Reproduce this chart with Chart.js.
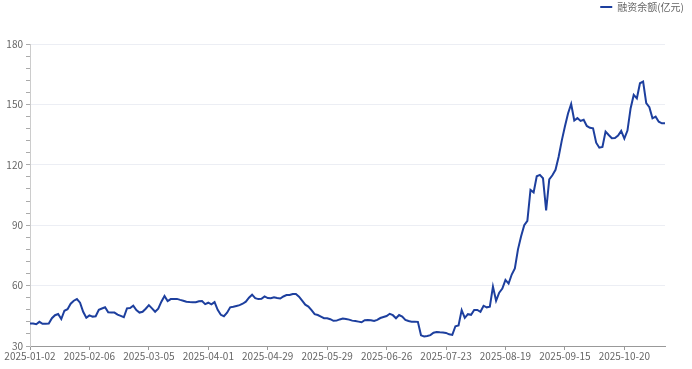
<!DOCTYPE html>
<html>
<head>
<meta charset="utf-8">
<script src="https://cdn.jsdelivr.net/npm/chart.js@4/dist/chart.umd.min.js"></script>
<style>
  html, body { margin: 0; padding: 0; background: #fff; }
  #wrap { width: 692px; height: 369px; }
</style>
</head>
<body>
<div id="wrap"><canvas id="myCanvas" width="692" height="369"></canvas></div>
<script>
// trading calendar (weekdays minus exchange holidays)
const startDate = '2025-01-02';
const endDate = '2025-11-06';
const holidays = ['2025-01-01', '2025-01-28', '2025-01-29', '2025-01-30', '2025-01-31', '2025-02-03', '2025-02-04',
    '2025-04-04', '2025-05-01', '2025-05-02', '2025-05-05', '2025-06-02',
    '2025-10-01', '2025-10-02', '2025-10-03', '2025-10-06', '2025-10-07', '2025-10-08'];

// 融资余额 (亿元), one value per trading day
const balance = [
    41.2, 41.2, 40.8, 42.0, 41.0, 41.0, 41.2, 43.8, 45.3, 45.9,
    43.4, 47.5, 48.3, 51.0, 52.5, 53.3, 51.5, 47.0, 44.0, 45.2,
    44.6, 44.8, 48.0, 48.6, 49.2, 46.7, 46.6, 46.6, 45.6, 45.0,
    44.3, 48.7, 48.9, 50.0, 47.8, 46.6, 47.0, 48.5, 50.3, 48.7,
    47.0, 48.5, 52.0, 54.8, 52.3, 53.3, 53.3, 53.4, 52.9, 52.5,
    52.0, 51.8, 51.7, 51.7, 52.2, 52.3, 50.8, 51.5, 50.7, 51.8,
    48.0, 45.5, 44.8, 46.5, 49.2, 49.5, 49.9, 50.3, 51.0, 52.0,
    54.0, 55.5, 53.8, 53.3, 53.4, 54.6, 53.8, 53.7, 54.2, 53.8,
    53.6, 54.6, 55.3, 55.3, 55.8, 55.8, 54.5, 52.5, 50.5, 49.6,
    47.8, 45.8, 45.4, 44.6, 43.8, 43.8, 43.3, 42.5, 42.6, 43.2,
    43.6, 43.4, 43.1, 42.6, 42.4, 42.1, 41.8, 42.8, 42.9, 42.8,
    42.4, 43.0, 43.9, 44.4, 44.9, 46.0, 45.3, 43.8, 45.4, 44.6,
    43.0, 42.4, 42.1, 42.1, 42.0, 35.3, 34.7, 35.0, 35.4, 36.6,
    37.0, 36.8, 36.7, 36.5, 35.8, 35.5, 39.8, 40.2, 47.8, 44.0,
    45.8, 45.5, 47.9, 47.9, 47.0, 50.0, 49.2, 49.5, 59.5, 52.5,
    56.5, 58.5, 62.8, 61.0, 65.5, 68.5, 78.0, 84.5, 90.0, 92.2,
    107.5, 106.3, 114.3, 115.0, 113.3, 97.3, 112.8, 114.8, 117.5, 124.0,
    132.0, 139.0, 145.5, 150.2, 142.0, 143.2, 141.8, 142.4, 139.3, 138.4,
    138.1, 131.0, 128.5, 128.9, 136.5, 134.8, 133.2, 133.3, 134.5, 136.8,
    133.0, 137.0, 148.0, 154.7, 153.0, 160.5, 161.3, 150.6, 148.6, 143.1,
    143.9, 141.4, 140.6, 140.6
];

const seriesName = '融资余额(亿元)';
const yMin = 30;
const yMax = 180;
const labelEvery = 19;

function tradingDays(from, to) {
    let out = [];
    let d = new Date(from + 'T00:00:00Z');
    let last = new Date(to + 'T00:00:00Z');
    while (d <= last) {
        let s = d.toISOString().slice(0, 10);
        let wd = d.getUTCDay();
        if (wd !== 0 && wd !== 6 && holidays.indexOf(s) < 0) out.push(s);
        d.setUTCDate(d.getUTCDate() + 1);
    }
    return out;
}

let dates = tradingDays(startDate, endDate);

let lineColor = '#1d3f9e';
let fontFamily = "'Noto Sans CJK SC', 'Noto Sans', sans-serif";
let rightPad = 27;

// pin the legend band height and push it to the right edge like the reference
const legendBand = {
    id: 'legendBand',
    beforeLayout(chart) {
        let lg = chart.legend;
        if (lg && !lg._pinned) {
            let fit = lg.fit;
            lg.fit = function () { fit.call(this); this.height = 44; };
            lg._pinned = true;
        }
    },
    afterLayout(chart) {
        let lg = chart.legend;
        if (lg) {
            lg.left += rightPad - 6;
            lg.right += rightPad - 6;
            if (lg.adjustHitBoxes) lg.adjustHitBoxes();
        }
    }
};

let ctx = document.getElementById('myCanvas').getContext('2d');
new Chart(ctx, {
    type: 'line',
    data: {
        labels: dates,
        datasets: [{
            label: seriesName,
            data: balance,
            borderColor: lineColor,
            backgroundColor: lineColor,
            borderWidth: 2,
            pointRadius: 0,
            tension: 0,
            fill: false
        }]
    },
    plugins: [legendBand],
    options: {
        responsive: false,
        animation: false,
        layout: { padding: { left: 0, right: rightPad, top: 0, bottom: 0 } },
        plugins: {
            legend: {
                position: 'top',
                align: 'end',
                labels: {
                    boxWidth: 12,
                    boxHeight: 2,
                    padding: 2,
                    color: '#666',
                    font: { family: fontFamily, size: 10 },
                    generateLabels: function (chart) {
                        let items = Chart.defaults.plugins.legend.labels.generateLabels(chart);
                        items.forEach(it => { it.lineWidth = 0; });
                        return items;
                    }
                }
            },
            tooltip: { enabled: false }
        },
        scales: {
            x: {
                offset: false,
                grid: {
                    drawOnChartArea: false,
                    tickLength: 4,
                    tickColor: c => (c.index % labelEvery === 0 ? '#999' : 'transparent')
                },
                border: { display: true, color: '#999' },
                ticks: {
                    autoSkip: false,
                    maxRotation: 0,
                    padding: 0,
                    color: '#666',
                    font: { family: fontFamily, size: 10 },
                    callback: function (v, i) { return i % labelEvery === 0 ? dates[i] : ''; }
                },
                afterFit: s => { s.height = 23; }
            },
            y: {
                min: yMin,
                max: yMax,
                grid: {
                    tickLength: 4,
                    color: c => (c.tick.value % 30 === 0 && c.tick.value !== yMin ? '#eceef4' : 'transparent'),
                    tickColor: '#aaa'
                },
                border: { display: true, color: '#ccc' },
                ticks: {
                    stepSize: 6,
                    maxTicksLimit: 100,
                    autoSkip: false,
                    padding: 3,
                    color: '#666',
                    font: { family: fontFamily, size: 10 },
                    callback: v => (v % 30 === 0 ? v : '')
                },
                afterFit: s => { s.width = 30; }
            }
        }
    }
});
</script>
</body>
</html>
